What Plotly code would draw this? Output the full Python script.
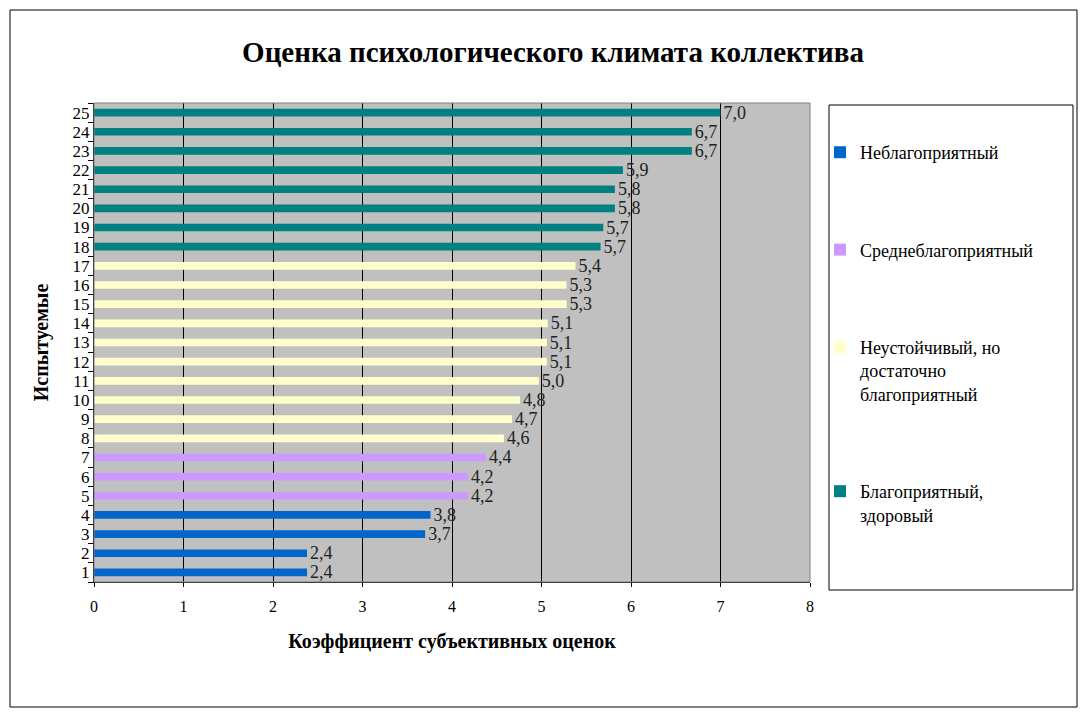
import plotly.graph_objects as go

categories = [str(i) for i in range(1, 26)]
values = [2.38, 2.38, 3.70, 3.76, 4.18, 4.18, 4.38, 4.58, 4.67, 4.76,
          4.97, 5.06, 5.06, 5.07, 5.28, 5.28, 5.38, 5.66, 5.69, 5.82,
          5.82, 5.91, 6.68, 6.68, 7.0]
groups = ["Неблагоприятный"] * 4 + ["Среднеблагоприятный"] * 3 + \
         ["Неустойчивый, но<br>достаточно<br>благоприятный"] * 10 + \
         ["Благоприятный,<br>здоровый"] * 8
series_names = ["Неблагоприятный", "Среднеблагоприятный",
                "Неустойчивый, но<br>достаточно<br>благоприятный",
                "Благоприятный,<br>здоровый"]
colors = ["#0066cc", "#cc99ff", "#ffffcc", "#008080"]
x_ticks = list(range(0, 9))

FONT = "Liberation Serif"

fig = go.Figure()
for i, (name, col) in enumerate(zip(series_names, colors)):
    ys = [c for c, g in zip(categories, groups) if g == name]
    xs = [v for v, g in zip(values, groups) if g == name]
    fig.add_trace(go.Bar(
        x=xs, y=ys, orientation="h", name=name,
        marker=dict(color=col, line=dict(width=0)),
        width=0.4,
        texttemplate="%{x:.1f}", textposition="outside",
        constraintext="none",
        textfont=dict(family=FONT, size=18, color="#222222"),
        cliponaxis=False, legendgroup=f"g{i}",
    ))

# paper coordinate helpers (plot area: x 94..810, y 103..582 px)
def px_x(p):
    return (p - 94) / 716.0

def px_y(p):
    return (582 - p) / 479.0

fig.update_layout(
    width=1087, height=717,
    margin=dict(l=94, r=277, t=103, b=135),
    paper_bgcolor="white",
    plot_bgcolor="#c0c0c0",
    barmode="overlay",
    separators=", ",
    font=dict(family=FONT, size=16, color="black"),
    title=dict(text="<b>Оценка психологического климата коллектива</b>",
               x=553 / 1087, xanchor="center", y=1 - 52 / 717, yanchor="middle",
               font=dict(family=FONT, size=29, color="black")),
    legend=dict(x=px_x(820), y=px_y(134), xanchor="left", yanchor="top",
                bgcolor="rgba(0,0,0,0)", borderwidth=0, valign="top",
                font=dict(family=FONT, size=18, color="black"),
                tracegroupgap=71, traceorder="grouped", itemsizing="constant"),
    showlegend=True,
)

fig.update_xaxes(
    range=[0, 8], tickvals=x_ticks, ticktext=[str(t) for t in x_ticks],
    showgrid=True, gridcolor="black", gridwidth=1,
    showline=True, linecolor="black", linewidth=1,
    ticks="outside", ticklen=4, tickcolor="black",
    ticklabelstandoff=6,
    tickfont=dict(family=FONT, size=16),
    zeroline=False,
    title=dict(text="<b>Коэффициент субъективных оценок</b>",
               font=dict(family=FONT, size=20), standoff=19),
)
fig.update_yaxes(
    type="category", categoryorder="array", categoryarray=categories,
    tickmode="array", tickvals=categories, ticktext=categories,
    range=[-0.5, 24.5],
    tickson="boundaries", ticks="outside", ticklen=5, tickcolor="black",
    showgrid=False, showline=True, linecolor="black", linewidth=1,
    tickfont=dict(family=FONT, size=17),
    title=dict(text="<b>Испытуемые</b>", font=dict(family=FONT, size=20),
               standoff=18),
)

# plot area right/top border
fig.add_shape(type="rect", xref="paper", yref="paper", x0=0, y0=0, x1=1, y1=1,
              line=dict(color="#808080", width=1), layer="above")
# legend box
fig.add_shape(type="rect", xref="paper", yref="paper",
              x0=px_x(829), x1=px_x(1073), y0=px_y(590), y1=px_y(105),
              line=dict(color="black", width=1))
# outer chart border
fig.add_shape(type="rect", xref="paper", yref="paper",
              x0=px_x(10), x1=px_x(1077), y0=px_y(707), y1=px_y(10),
              line=dict(color="black", width=1))

fig.write_html("out.html")
